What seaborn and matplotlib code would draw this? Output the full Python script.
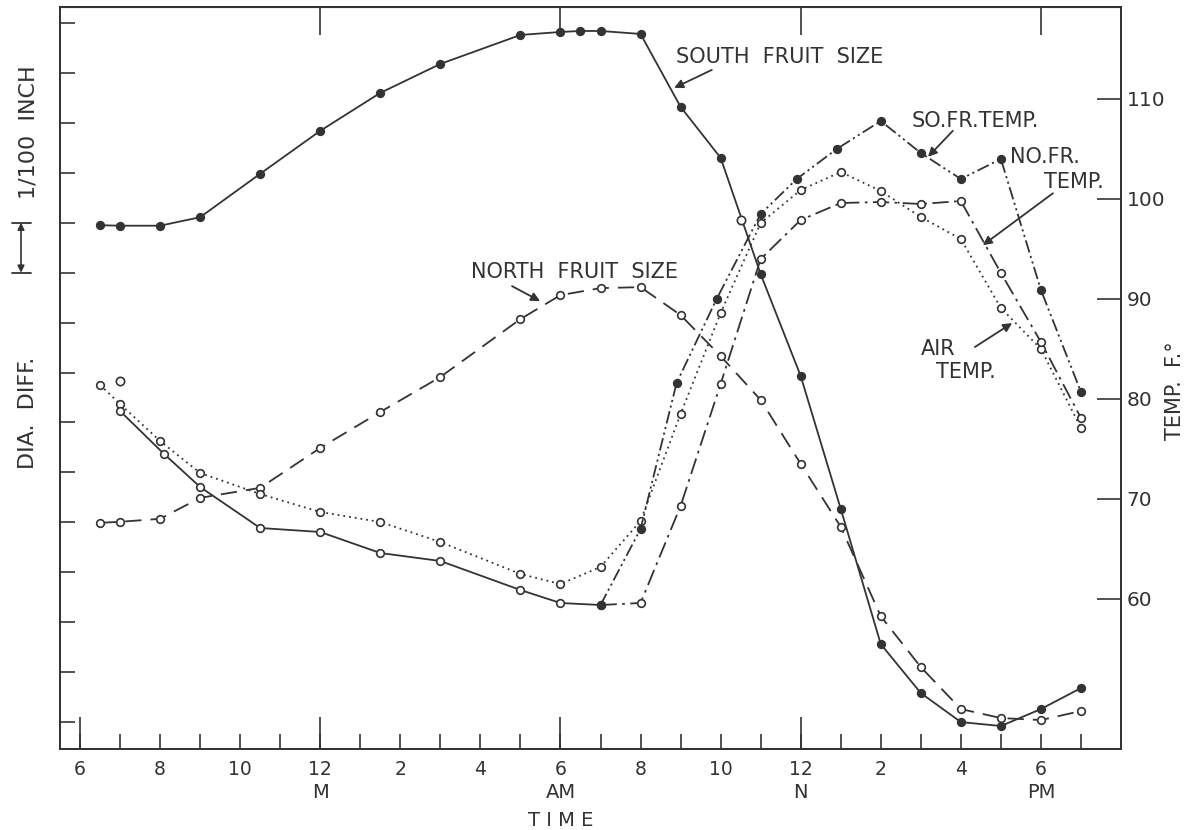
import numpy as np
import pandas as pd
import seaborn as sns
import matplotlib.pyplot as plt
import matplotlib.transforms as mtransforms

# Hours counted from noon of day 1 (6 = 6 PM, 12 = midnight, 18 = 6 AM, 24 = noon, 30 = 6 PM)
size_hours_south = [6.5, 7, 8, 9, 10.5, 12, 13.5, 15, 17, 18, 18.5, 19, 20, 21, 22, 23,
                    24, 25, 26, 27, 28, 29, 30, 31]
south_size = [9.95, 9.94, 9.94, 10.11, 10.98, 11.84, 12.60, 13.18, 13.76, 13.82, 13.84, 13.84,
              13.78, 12.32, 11.30, 8.97, 6.93, 4.27, 1.56, 0.58, 0.0, -0.08, 0.26, 0.68]

size_hours_north = [6.5, 7, 8, 9, 10.5, 12, 13.5, 15, 17, 18, 19, 20, 21, 22, 23,
                    24, 25, 26, 27, 28, 29, 30, 31]
north_size = [3.99, 4.01, 4.07, 4.49, 4.69, 5.49, 6.21, 6.91, 8.07, 8.55, 8.69, 8.71,
              8.15, 7.33, 6.45, 5.17, 3.91, 2.12, 1.10, 0.26, 0.08, 0.04, 0.22]

# fruit temperature during the night (both fruits on one curve)
night_hours = [7, 8.1, 9, 10.5, 12, 13.5, 15, 17, 18, 19]
night_fruit_temp = [78.8, 74.5, 71.2, 67.1, 66.7, 64.6, 63.8, 60.9, 59.6, 59.4]

air_hours = [6.5, 7, 8, 9, 10.5, 12, 13.5, 15, 17, 18, 19, 20, 21, 22, 23,
             24, 25, 26, 27, 28, 29, 30, 31]
air_temp = [81.4, 79.5, 75.8, 72.6, 70.5, 68.7, 67.7, 65.7, 62.5, 61.5, 63.2, 67.8,
            78.5, 88.6, 97.6, 100.9, 102.7, 100.8, 98.2, 96.0, 89.1, 85.0, 77.1]

so_fr_hours = [19, 20, 20.9, 21.9, 23, 23.9, 24.9, 26, 27, 28, 29, 30, 31]
so_fr_temp = [59.4, 67.0, 81.6, 90.0, 98.5, 102.0, 105.0, 107.8, 104.6, 102.0, 104.0, 90.9, 80.7]

no_fr_hours = [19, 20, 21, 22, 23, 24, 25, 26, 27, 28, 29, 30, 31]
no_fr_temp = [59.4, 59.6, 69.3, 81.5, 94.0, 97.9, 99.6, 99.7, 99.5, 99.8, 92.6, 85.7, 78.1]

extra_hours = [7, 22.5]
extra_temp = [81.8, 97.9]

tick_hours = list(range(6, 32))
tick_labels = [str((h - 1) % 12 + 1) if h % 2 == 0 else '' for h in tick_hours]
period_hours = [12, 18, 24, 30]
period_labels = ['M', 'AM', 'N', 'PM']

INK = '#333333'

sns.set_style("white")
plt.rcParams['font.family'] = ['DejaVu Sans']

fig = plt.figure(figsize=(11.87, 8.30), dpi=100)
ax = fig.add_axes([60 / 1187, 1 - 749 / 830, (1121 - 60) / 1187, 742 / 830])
ax2 = ax.twinx()

line_kw = dict(color=INK, linewidth=1.3, markersize=5.5, markeredgewidth=1.2)
open_kw = dict(marker='o', markerfacecolor='white', markeredgecolor=INK)
fill_kw = dict(marker='o', markerfacecolor=INK, markeredgecolor=INK)

# fruit size curves (left axis)
sns.lineplot(x=size_hours_south, y=south_size, ax=ax, linestyle='-', **fill_kw, **line_kw)
sns.lineplot(x=size_hours_north, y=north_size, ax=ax, linestyle=(0, (9, 5)), **open_kw, **line_kw)

# temperatures (right axis)
sns.lineplot(x=air_hours, y=air_temp, ax=ax2, linestyle=(0, (1, 2.2)), **open_kw, **line_kw)
sns.lineplot(x=night_hours, y=night_fruit_temp, ax=ax2, linestyle='-', **open_kw, **line_kw)
sns.lineplot(x=no_fr_hours, y=no_fr_temp, ax=ax2, linestyle=(0, (9, 3, 1.5, 3)),
             markevery=list(range(1, len(no_fr_hours))), **open_kw, **line_kw)
sns.lineplot(x=so_fr_hours, y=so_fr_temp, ax=ax2, linestyle=(0, (7, 2, 1.2, 2, 1.2, 2)),
             **fill_kw, **line_kw)
sns.scatterplot(x=extra_hours, y=extra_temp, ax=ax2, s=36, facecolor='white',
                edgecolor=INK, linewidth=1.2, zorder=3)

# axes limits and ticks
ax.set_xlim(5.5, 32.0)
ax.set_ylim(-0.54, 14.32)
ax2.set_ylim(45, 119.2)

ax.xaxis.remove_overlapping_locs = False
ax.set_xticks(tick_hours)
ax.set_xticklabels(tick_labels)
ax.xaxis.set_minor_locator(plt.FixedLocator([6, 12, 18, 24]))
ax.tick_params(axis='x', which='major', direction='in', length=11, width=1.2,
               pad=8, labelsize=13.5, colors=INK, bottom=True, top=False)
ax.tick_params(axis='x', which='minor', direction='in', length=23, width=1.2,
               colors=INK, bottom=True, top=False)

ax.set_yticks(range(0, 15))
ax.yaxis.set_minor_locator(plt.NullLocator())
ax.tick_params(axis='y', which='major', direction='in', length=11, width=1.2,
               labelleft=False, left=True, colors=INK)

ax2.set_yticks([60, 70, 80, 90, 100, 110])
ax2.tick_params(axis='y', direction='in', length=17, width=1.2, labelsize=14.5,
                pad=4, right=True, colors=INK)

top = ax.secondary_xaxis('top')
top.set_xticks([12, 18, 24, 30])
top.set_xticklabels(['', '', '', ''])
top.tick_params(direction='in', length=20, width=1.2, colors=INK, top=True)

for a in (ax, ax2):
    a.set_xlabel('')
    a.set_ylabel('')
    for sp in a.spines.values():
        sp.set_color(INK)
        sp.set_linewidth(1.3)
top.spines['top'].set_color(INK)

# period labels under the time axis
xtrans = ax.get_xaxis_transform()
for h, lab in zip(period_hours, period_labels):
    ax.text(h, -0.059, lab, transform=xtrans, ha='center', va='center',
            fontsize=14, color=INK)
ax.text(18, -0.096, 'T I M E', transform=xtrans, ha='center', va='center',
        fontsize=14, color=INK)

# axis titles
fig.text(28 / 1187, 1 - 413 / 830, 'DIA.  DIFF.', rotation=90, ha='center', va='center',
         fontsize=16, color=INK)
fig.text(28 / 1187, 1 - 132 / 830, '1/100  INCH', rotation=90, ha='center', va='center',
         fontsize=16, color=INK)
fig.text(1175 / 1187, 1 - 391 / 830, 'TEMP.  F.°', rotation=90, ha='center', va='center',
         fontsize=15, color=INK)

# 1/100 inch scale bar on the left
btrans = mtransforms.blended_transform_factory(fig.transFigure, ax.transData)
for yv in (9, 10):
    ax.plot([12 / 1187, 31 / 1187], [yv, yv], transform=btrans, color=INK,
            linewidth=1.3, clip_on=False)
ax.annotate('', xy=(21 / 1187, 9), xytext=(21 / 1187, 10), xycoords=btrans,
            textcoords=btrans,
            arrowprops=dict(arrowstyle='<|-|>', color=INK, lw=1.2, mutation_scale=10,
                            shrinkA=0, shrinkB=0))

# curve labels with arrows
arrow = dict(arrowstyle='-|>', color=INK, lw=1.3, mutation_scale=13, shrinkA=0, shrinkB=0)
text_kw = dict(fontsize=15, color=INK, ha='center', va='center')

ax.text(23.48, 13.32, 'SOUTH  FRUIT  SIZE', **text_kw)
ax.annotate('', xy=(20.84, 12.70), xytext=(21.78, 13.06), arrowprops=arrow)

ax.text(18.36, 9.01, 'NORTH  FRUIT  SIZE', **text_kw)
ax.annotate('', xy=(17.49, 8.43), xytext=(16.79, 8.73), arrowprops=arrow)

ax.text(28.35, 12.04, 'SO.FR.TEMP.', **text_kw)
ax.annotate('', xy=(27.18, 11.32), xytext=(27.80, 11.84), arrowprops=arrow)

ax.text(30.1, 11.32, 'NO.FR.', **text_kw)
ax.text(30.83, 10.82, 'TEMP.', **text_kw)
ax.annotate('', xy=(28.55, 9.55), xytext=(30.30, 10.59), arrowprops=arrow)

ax.text(27.43, 7.47, 'AIR', **text_kw)
ax.text(28.13, 7.01, 'TEMP.', **text_kw)
ax.annotate('', xy=(29.28, 7.99), xytext=(28.35, 7.51), arrowprops=arrow)

fig.savefig('out.png', dpi=100, facecolor='white')
